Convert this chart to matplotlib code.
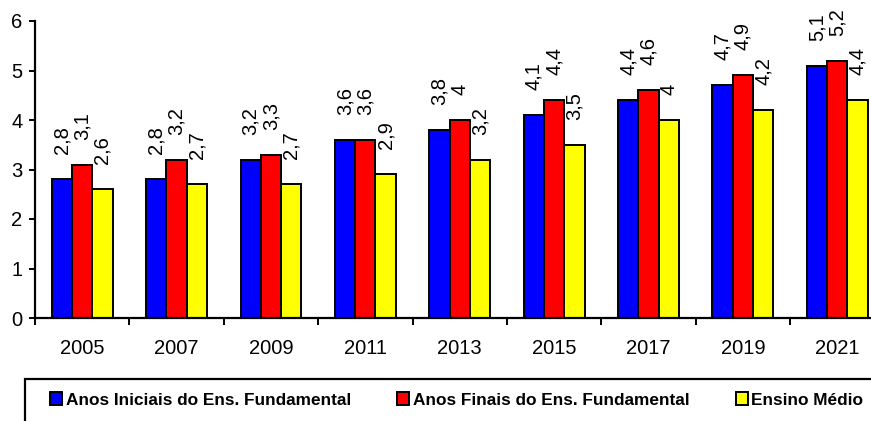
import matplotlib
matplotlib.use("Agg")
import matplotlib.pyplot as plt
import numpy as np
from matplotlib.patches import Rectangle

plt.rcParams["font.family"] = ["Liberation Sans", "DejaVu Sans"]

# data
years = ["2005", "2007", "2009", "2011", "2013", "2015", "2017", "2019", "2021"]
anos_iniciais = [2.8, 2.8, 3.2, 3.6, 3.8, 4.1, 4.4, 4.7, 5.1]
anos_finais = [3.1, 3.2, 3.3, 3.6, 4.0, 4.4, 4.6, 4.9, 5.2]
ensino_medio = [2.6, 2.7, 2.7, 2.9, 3.2, 3.5, 4.0, 4.2, 4.4]
series_names = [
    "Anos Iniciais do Ens. Fundamental",
    "Anos Finais do Ens. Fundamental",
    "Ensino Médio",
]
colors = ["#0000FF", "#FF0000", "#FFFF00"]
y_ticks = [0, 1, 2, 3, 4, 5, 6]

W, H = 871, 421
fig = plt.figure(figsize=(W / 100, H / 100), dpi=100)
ax = fig.add_axes([35 / W, 103 / H, 849.4 / W, 297 / H])

x = np.arange(len(years))
width = 0.215
handles = []
for i, (vals, name, col) in enumerate(zip([anos_iniciais, anos_finais, ensino_medio], series_names, colors)):
    bars = ax.bar(x + (i - 1) * width, vals, width, color=col, edgecolor="black",
                  linewidth=1.4, label=name)
    handles.append(bars)
    for xi, v in zip(x + (i - 1) * width, vals):
        ax.annotate(f"{v:g}".replace(".", ","), (xi, v), xytext=(0, 18),
                    textcoords="offset points", rotation=90, ha="center", va="bottom",
                    fontsize=14.5)

ax.set_xlim(-0.5, len(years) - 0.5)
ax.set_ylim(0, 6)
ax.set_yticks(y_ticks)
ax.tick_params(axis="y", length=4, width=1.4, direction="out", pad=5, labelsize=14.5)

# category boundaries as major ticks, labels on minor ticks
ax.set_xticks(np.arange(-0.5, len(years), 1.0))
ax.set_xticklabels([])
ax.set_xticks(x, minor=True)
ax.set_xticklabels(years, minor=True)
ax.tick_params(axis="x", which="major", length=5, width=1.4, direction="out")
ax.tick_params(axis="x", which="minor", length=0, pad=15, labelsize=14.5)

for s in ["top", "right"]:
    ax.spines[s].set_visible(False)
for s in ["left", "bottom"]:
    ax.spines[s].set_linewidth(1.6)

# legend frame runs past the figure edge
fig.patches.append(Rectangle((25 / W, -0.1), 1.0, 1 - 379 / H + 0.1, transform=fig.transFigure,
                             fill=False, edgecolor="black", linewidth=1.6, clip_on=False))
fig.legend(handles=handles, loc="center left", bbox_to_anchor=(50 / W, 1 - 400 / H),
           ncol=3, frameon=False, borderpad=0, borderaxespad=0,
           handlelength=0.7, handleheight=0.7, handletextpad=0.2, columnspacing=2.7,
           prop={"weight": "bold", "size": 12.4})

fig.savefig("out.png", dpi=100)
